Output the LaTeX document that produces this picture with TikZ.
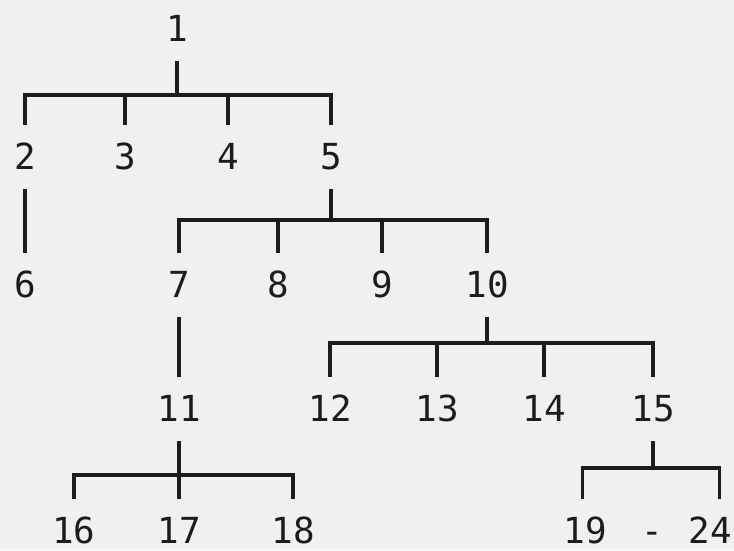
\documentclass[tikz,border=0pt]{standalone}
\usepackage{fontspec}
\setmonofont{DejaVu Sans Mono}
\usetikzlibrary{positioning,calc}
\definecolor{paper}{RGB}{240,240,240}
\definecolor{ink}{RGB}{28,28,28}

\begin{document}
\begin{tikzpicture}[
  x=0.01cm, y=-0.01cm,
  num/.style = {font=\ttfamily\fontsize{10.2}{12}\selectfont, text=ink,
                inner sep=0pt, outer sep=5.5pt, text height=7.3pt, text depth=0pt},
  link/.style = {draw=ink, line width=0.9pt}
]
\fill[paper] (0,0) rectangle (734,550);
\useasboundingbox (0,0) rectangle (734,550);

% level 0 and 1
\node[num] (n1) at (177,29) {1};
\node[num] (n2) at (25,157) {2};
\node[num] (n3) at (125,157) {3};
\node[num] (n4) at (228,157) {4};
\node[num] (n5) at (331,157) {5};

% level 2
\node[num] (n6) at (25,285) {6};
\node[num] (n7) at (179,285) {7};
\node[num] (n8) at (278,285) {8};
\node[num] (n9) at (382,285) {9};
\node[num] (n10) at (487,285) {10};

% level 3
\node[num] (n11) at (179,409) {11};
\node[num] (n12) at (330,409) {12};
\node[num] (n13) at (437,409) {13};
\node[num] (n14) at (544,409) {14};
\node[num] (n15) at (653,409) {15};

% level 4
\node[num] (n16) at (74,531) {16};
\node[num] (n17) at (179,531) {17};
\node[num] (n18) at (293,531) {18};
\node[num] (n19) at (585,531) {19};
\node[num] (dash) at (652,531) {-};
\node[num] (n24) at (710,531) {24};

\coordinate (bar1) at (177,95);
\coordinate (bar5) at (331,220);
\coordinate (bar10) at (487,343);
\coordinate (bar11) at (179,475);
\coordinate (bar15) at (653,468);

\draw[link] (n1.south) -- (bar1)
  (n2.north) |- (n5 |- bar1) -- (n5.north)
  (n3.north) -- (n3 |- bar1)
  (n4.north) -- (n4 |- bar1);
\draw[link] (n2.south) -- (n6.north);

\draw[link] (n5.south) -- (bar5)
  (n7.north) |- (n10 |- bar5) -- (n10.north)
  (n8.north) -- (n8 |- bar5)
  (n9.north) -- (n9 |- bar5);
\draw[link] (n7.south) -- (n11.north);

\draw[link] (n10.south) -- (bar10)
  (n12.north) |- (n15 |- bar10) -- (n15.north)
  (n13.north) -- (n13 |- bar10)
  (n14.north) -- (n14 |- bar10);

\draw[link] (n11.south) -- (n17.north)
  (n16.north) |- (n18 |- bar11) -- (n18.north);

\draw[link] (n15.south) -- (bar15)
  ([xshift=-0.6pt]n19.north) |- ([xshift=2.8pt]n24 |- bar15) -- ([xshift=2.8pt]n24.north);

\end{tikzpicture}
\end{document}
